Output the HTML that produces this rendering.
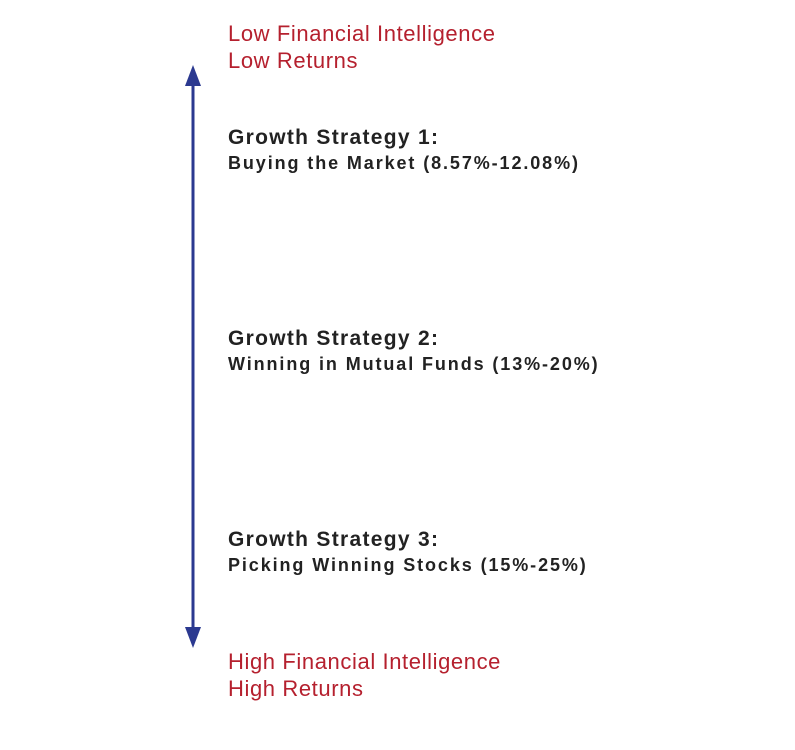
<!DOCTYPE html>
<html><head><meta charset="utf-8"><style>
body{margin:0;background:#fff;width:795px;height:750px;position:relative;overflow:hidden;font-family:"Liberation Sans",Arial,sans-serif}
.t{position:absolute;left:228px;white-space:nowrap}
.red{color:#b5202e;font-size:22px;line-height:27px;letter-spacing:0.6px}
.h{color:#222;font-weight:bold;font-size:21px;letter-spacing:1.3px}
.s{color:#222;font-weight:bold;font-size:18px;letter-spacing:1.9px}
</style></head><body>
<svg style="position:absolute;left:0;top:0" width="795" height="750">
<line x1="193" y1="80" x2="193" y2="632" stroke="#2b3990" stroke-width="3"/>
<polygon points="193,65 185,86 201,86" fill="#2b3990"/>
<polygon points="193,648 185,627 201,627" fill="#2b3990"/>
</svg>
<div class="t red" style="top:20px">Low Financial Intelligence<br>Low Returns</div>
<div class="t h" style="top:126px">Growth Strategy 1:</div>
<div class="t s" style="top:153px">Buying the Market (8.57%-12.08%)</div>
<div class="t h" style="top:327px">Growth Strategy 2:</div>
<div class="t s" style="top:354px">Winning in Mutual Funds (13%-20%)</div>
<div class="t h" style="top:528px">Growth Strategy 3:</div>
<div class="t s" style="top:555px">Picking Winning Stocks (15%-25%)</div>
<div class="t red" style="top:648px">High Financial Intelligence<br>High Returns</div>
</body></html>
